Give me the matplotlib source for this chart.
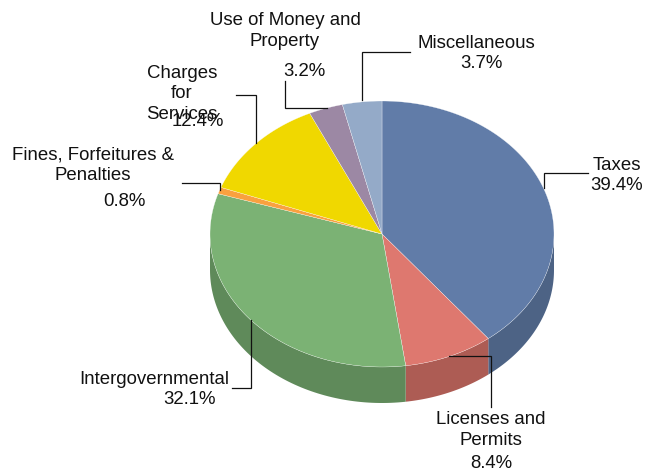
import matplotlib
matplotlib.use('Agg')
import matplotlib.pyplot as plt
import numpy as np

plt.rcParams['font.family'] = ['Liberation Sans', 'DejaVu Sans']

categories = ['Taxes', 'Licenses and\nPermits', 'Intergovernmental', 'Fines, Forfeitures &\nPenalties',
              'Charges\nfor\nServices', 'Use of Money and\nProperty', 'Miscellaneous']
values = [39.4, 8.4, 32.1, 0.8, 12.4, 3.2, 3.7]
colors = ['#617ca8', '#de786f', '#7bb274', '#f9a13f', '#f0d800', '#9c88a4', '#94aac8']
side_colors = ['#4d6385', '#ad5c54', '#5f8a5a', '#c7802f', '#c0ad00', '#7c6d83', '#7688a0']

# pie geometry in pixels
cx, cy = 382, 234
rx, ry = 172, 133
depth = 36

# label text position (pixels)
label_pos = [(617, 166), (491, 430), (154, 380), (93, 165), (182, 94), (285, 31), (476, 43)]
pct_pos = [(617, 186), (491, 463), (190, 400), (124, 201), (198, 121), (304, 72), (481, 64)]

# leader lines
leaders = [
    [(544, 188), (544, 173), (588, 173)],
    [(449, 356), (491, 356), (491, 407)],
    [(251, 320), (251, 388), (232, 388)],
    [(220, 190), (220, 183), (182, 183)],
    [(256, 143), (256, 95), (236, 95)],
    [(285, 81), (285, 108), (327, 108)],
    [(362, 100), (362, 52), (410, 52)],
]

fig = plt.figure(figsize=(6.47, 4.70), dpi=100)
ax = fig.add_axes([0, 0, 1, 1])
ax.set_xlim(0, 647)
ax.set_ylim(470, 0)
ax.axis('off')

edges = np.cumsum([0] + values) / sum(values) * 2 * np.pi

# side wall, only the front half of the rim shows
for i in range(len(values)):
    a0 = max(edges[i], np.pi / 2)
    a1 = min(edges[i + 1], 3 * np.pi / 2)
    if a1 <= a0:
        continue
    t = np.linspace(a0, a1, 80)
    x = cx + rx * np.sin(t)
    y = cy - ry * np.cos(t)
    ax.fill(np.r_[x, x[::-1]], np.r_[y, y[::-1] + depth], color=side_colors[i], lw=0, zorder=1)

# top face
for i in range(len(values)):
    t = np.linspace(edges[i], edges[i + 1], 120)
    x = np.r_[cx, cx + rx * np.sin(t)]
    y = np.r_[cy, cy - ry * np.cos(t)]
    ax.fill(x, y, facecolor=colors[i], edgecolor='#ffffff', lw=0.2, zorder=2)

for line in leaders:
    xs, ys = zip(*line)
    ax.plot(xs, ys, color='#111111', lw=0.9, zorder=3, solid_joinstyle='miter')

for i, name in enumerate(categories):
    ax.text(label_pos[i][0], label_pos[i][1], name, ha='center', va='center', fontsize=13.4, color='#111111', zorder=4, linespacing=1.3)
    ax.text(pct_pos[i][0], pct_pos[i][1], '%.1f%%' % values[i], ha='center', va='center', fontsize=13.4, color='#111111', zorder=4)

fig.savefig('out.png', dpi=100)
